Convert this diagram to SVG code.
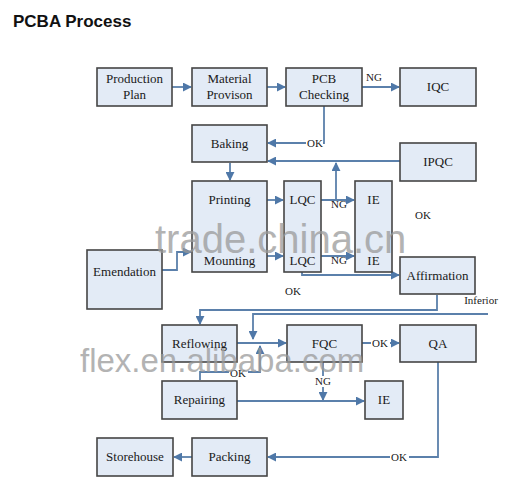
<svg xmlns="http://www.w3.org/2000/svg" width="511" height="496" viewBox="0 0 511 496">
<defs>
<style>
.box{fill:#e3ebf6;stroke:#454545;stroke-width:1.6}
.t{font-family:"Liberation Serif","Times New Roman",serif;font-size:13px;fill:#1a1a1a;text-anchor:middle}
.l{font-family:"Liberation Serif","Times New Roman",serif;font-size:11px;fill:#1a1a1a;text-anchor:middle}
.ca{fill:none;stroke:#5b80ab;stroke-width:1.8;marker-end:url(#ah)}
.wm{font-family:"Liberation Sans",Arial,sans-serif;fill:#9a9a9a;opacity:0.75}
</style>
<marker id="ah" viewBox="0 0 10 10" refX="9" refY="5" markerWidth="5" markerHeight="5" orient="auto" markerUnits="strokeWidth">
<path d="M0,0 L10,5 L0,10 z" fill="#4f78a8"/>
</marker>
</defs>
<rect width="511" height="496" fill="#ffffff"/>
<text x="13" y="27" font-family="Liberation Sans,Arial,sans-serif" font-size="17" font-weight="bold" fill="#111">PCBA Process</text>

<g id="connectors">
<path class="ca" d="M172,87 H191"/>
<path class="ca" d="M267,87 H285"/>
<path class="ca" d="M362,87 H399"/>
<path class="ca" d="M324,106 V143 H268"/>
<path class="ca" d="M400,161 H268"/>
<path class="ca" d="M230,163 V180"/>
<path class="ca" d="M267,200 H283"/>
<path class="ca" d="M321,200 H354"/>
<path class="ca" d="M336,200 V163"/>
<path class="ca" d="M267,256 H283"/>
<path class="ca" d="M321,256 H354"/>
<path class="ca" d="M162,270 H177 V252 H191"/>
<path class="ca" d="M302,272 V275 H399"/>
<path class="ca" d="M437,295 V310 H200 V324"/>
<path class="ca" d="M488,314 H253 V339"/>
<path class="ca" d="M237,343 H286"/>
<path class="ca" d="M200,380 V372 H260 V346"/>
<path class="ca" d="M362,343 H399"/>
<path class="ca" d="M323,362 V400"/>
<path class="ca" d="M237,401 H364"/>
<path class="ca" d="M438,362 V457 H268"/>
<path class="ca" d="M192,457 H174"/>
<rect x="306" y="137" width="17" height="12" fill="#fff"/>
<text class="l" x="315" y="147">OK</text>
<text class="l" x="374" y="81">NG</text>
<text class="l" x="339" y="208">NG</text>
<text class="l" x="339" y="264">NG</text>
<text class="l" x="423" y="219">OK</text>
<text class="l" x="293" y="295">OK</text>
<text class="l" x="481" y="304">Inferior</text>
<rect x="229" y="367" width="19" height="11" fill="#fff"/>
<text class="l" x="238" y="377">OK</text>
<rect x="371" y="337" width="19" height="11" fill="#fff"/>
<text class="l" x="380" y="347">OK</text>
<rect x="314" y="376" width="18" height="11" fill="#fff"/>
<text class="l" x="323" y="385">NG</text>
<rect x="390" y="451" width="19" height="11" fill="#fff"/>
<text class="l" x="399" y="461">OK</text>
</g>

<g id="production-plan"><rect class="box" x="97" y="68" width="75" height="38"/><text class="t" x="134.5" y="83">Production</text><text class="t" x="134.5" y="99">Plan</text></g>
<g id="material-provison"><rect class="box" x="192" y="68" width="75" height="38"/><text class="t" x="229.5" y="83">Material</text><text class="t" x="229.5" y="99">Provison</text></g>
<g id="pcb-checking"><rect class="box" x="286" y="68" width="76" height="38"/><text class="t" x="324" y="83">PCB</text><text class="t" x="324" y="99">Checking</text></g>
<g id="iqc"><rect class="box" x="400" y="68" width="76" height="38"/><text class="t" x="438" y="91">IQC</text></g>
<g id="baking"><rect class="box" x="192" y="125" width="75" height="37"/><text class="t" x="229.5" y="148">Baking</text></g>
<g id="ipqc"><rect class="box" x="400" y="143" width="76" height="38"/><text class="t" x="438" y="166">IPQC</text></g>
<g id="printing-mounting"><rect class="box" x="192" y="181" width="75" height="91"/><text class="t" x="229.5" y="204">Printing</text><text class="t" x="229.5" y="265">Mounting</text></g>
<g id="lqc"><rect class="box" x="284" y="181" width="37" height="91"/><text class="t" x="302.5" y="204">LQC</text><text class="t" x="302.5" y="265">LQC</text></g>
<g id="ie-top"><rect class="box" x="355" y="181" width="37" height="91"/><text class="t" x="373.5" y="204">IE</text><text class="t" x="373.5" y="265">IE</text></g>
<g id="emendation"><rect class="box" x="87" y="250" width="75" height="59"/><text class="t" x="124.5" y="276">Emendation</text></g>
<g id="affirmation"><rect class="box" x="400" y="257" width="75" height="37"/><text class="t" x="437.5" y="280">Affirmation</text></g>
<g id="reflowing"><rect class="box" x="162" y="325" width="75" height="37"/><text class="t" x="199.5" y="348">Reflowing</text></g>
<g id="fqc"><rect class="box" x="287" y="325" width="75" height="37"/><text class="t" x="324.5" y="348">FQC</text></g>
<g id="qa"><rect class="box" x="400" y="325" width="76" height="37"/><text class="t" x="438" y="348">QA</text></g>
<g id="repairing"><rect class="box" x="162" y="381" width="75" height="38"/><text class="t" x="199.5" y="404">Repairing</text></g>
<g id="ie-bottom"><rect class="box" x="365" y="381" width="38" height="38"/><text class="t" x="384" y="404">IE</text></g>
<g id="storehouse"><rect class="box" x="97" y="438" width="76" height="38"/><text class="t" x="135" y="461">Storehouse</text></g>
<g id="packing"><rect class="box" x="192" y="438" width="75" height="38"/><text class="t" x="229.5" y="461">Packing</text></g>

<text class="wm" x="155" y="253" font-size="40">trade.china.cn</text>
<text class="wm" x="80" y="372" font-size="33">flex.en.alibaba.com</text>
</svg>
